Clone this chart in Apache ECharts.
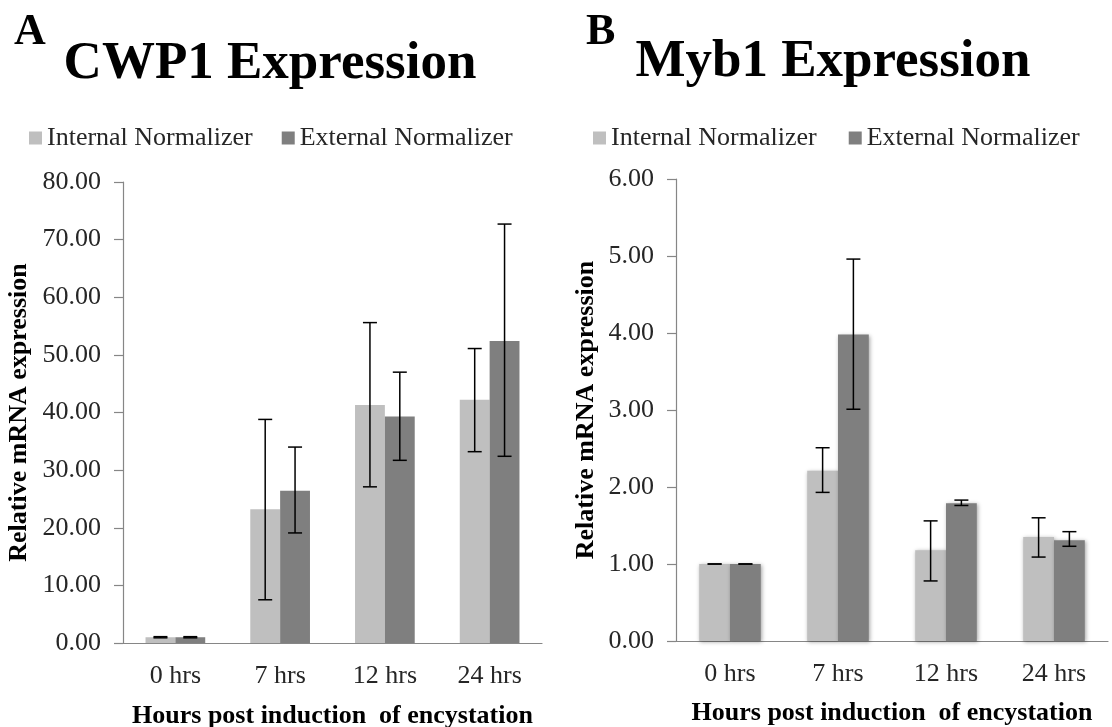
<!DOCTYPE html>
<html>
<head>
<meta charset="utf-8">
<script src="https://cdn.jsdelivr.net/npm/echarts@6/dist/echarts.min.js"></script>
<style>html,body{margin:0;padding:0;background:#fff}#c{width:1112px;height:727px}</style>
</head>
<body>
<div id="c"></div>
<script>
const categories = ['0 hrs', '7 hrs', '12 hrs', '24 hrs'];
const seriesNames = ['Internal Normalizer', 'External Normalizer'];

// CWP1 (panel A)
const cwp1Internal = [1.0, 23.2, 41.3, 42.2];
const cwp1InternalLow = [0.9, 7.5, 27.1, 33.2];
const cwp1InternalHigh = [1.1, 38.8, 55.6, 51.1];
const cwp1External = [1.0, 26.4, 39.3, 52.4];
const cwp1ExternalLow = [0.9, 19.1, 31.7, 32.4];
const cwp1ExternalHigh = [1.1, 34.0, 47.0, 72.7];
const cwp1Ticks = { min: 0, max: 80, interval: 10 };

// Myb1 (panel B)
const mybInternal = [1.0, 2.21, 1.18, 1.35];
const mybInternalLow = [1.0, 1.93, 0.78, 1.09];
const mybInternalHigh = [1.0, 2.51, 1.56, 1.60];
const mybExternal = [1.0, 3.98, 1.79, 1.31];
const mybExternalLow = [1.0, 3.01, 1.76, 1.23];
const mybExternalHigh = [1.0, 4.96, 1.83, 1.42];
const mybTicks = { min: 0, max: 6, interval: 1 };

const FONT = '"Liberation Serif", "Times New Roman", serif';
const LIGHT = '#bfbfbf';
const DARK = '#7f7f7f';
const AXIS = '#868686';
const GAP = 0.43;

function errData(low, high) {
  return categories.map((c, i) => [i, low[i], high[i]]);
}
function errSeries(idx, low, high, side) {
  return {
    type: 'custom',
    xAxisIndex: idx, yAxisIndex: idx,
    z: 5,
    silent: true,
    data: errData(low, high),
    renderItem: function (params, api) {
      const band = api.size([1, 0])[0];
      const bw = band * (1 - GAP) / 2;
      const lo = api.coord([api.value(0), api.value(1)]);
      const hi = api.coord([api.value(0), api.value(2)]);
      const x = lo[0] + side * bw / 2;
      const cap = 7;
      const st = { stroke: '#000', lineWidth: 1.5 };
      return {
        type: 'group',
        children: [
          { type: 'line', shape: { x1: x, y1: lo[1], x2: x, y2: hi[1] }, style: st },
          { type: 'line', shape: { x1: x - cap, y1: hi[1], x2: x + cap, y2: hi[1] }, style: st },
          { type: 'line', shape: { x1: x - cap, y1: lo[1], x2: x + cap, y2: lo[1] }, style: st }
        ]
      };
    }
  };
}

function xAxis(idx, gap) {
  return {
    type: 'category', gridIndex: idx, data: categories,
    name: 'Hours post induction  of encystation',
    nameLocation: 'middle', nameGap: gap,
    nameTextStyle: { fontFamily: FONT, fontSize: 26, fontWeight: 'bold', color: '#000' },
    axisLine: { lineStyle: { color: AXIS, width: 1.2 } },
    axisTick: { length: 9, lineStyle: { color: AXIS, width: 1.2 } },
    axisLabel: { fontFamily: FONT, fontSize: 26, color: '#262626', margin: 20 }
  };
}
function yAxis(idx, t, gap) {
  return {
    type: 'value', gridIndex: idx, min: t.min, max: t.max, interval: t.interval,
    name: 'Relative mRNA expression', nameLocation: 'middle', nameGap: gap, nameRotate: 90,
    nameTextStyle: { fontFamily: FONT, fontSize: 26, fontWeight: 'bold', color: '#000' },
    axisLine: { show: true, lineStyle: { color: AXIS, width: 1.2 } },
    axisTick: { show: true, length: 9, lineStyle: { color: AXIS, width: 1.2 } },
    splitLine: { show: false },
    axisLabel: { fontFamily: FONT, fontSize: 26, color: '#262626', margin: 22,
      formatter: v => v.toFixed(2) }
  };
}
function barSeries(idx, name, data, color, shadow) {
  const s = {
    type: 'bar', name: name, xAxisIndex: idx, yAxisIndex: idx, data: data,
    barGap: '0%', barCategoryGap: (GAP * 100) + '%',
    itemStyle: { color: color }
  };
  if (shadow) {
    s.itemStyle.shadowBlur = 4;
    s.itemStyle.shadowColor = 'rgba(0,0,0,0.35)';
    s.itemStyle.shadowOffsetX = 1;
    s.itemStyle.shadowOffsetY = 1;
  }
  return s;
}
const legendBase = {
  data: seriesNames, icon: 'rect', itemWidth: 13, itemHeight: 13, itemGap: 29,
  textStyle: { fontFamily: FONT, fontSize: 26, color: '#262626' }, padding: 0
};

const option = {
  animation: false,
  backgroundColor: '#fff',
  title: [
    { text: 'A', left: 14, top: 11, padding: 0, textStyle: { fontFamily: FONT, fontSize: 44, fontWeight: 'bold', color: '#000' } },
    { text: 'CWP1 Expression', left: 270, top: 38, textAlign: 'center', padding: 0, textStyle: { fontFamily: FONT, fontSize: 53, fontWeight: 'bold', color: '#000' } },
    { text: 'B', left: 586, top: 11, padding: 0, textStyle: { fontFamily: FONT, fontSize: 44, fontWeight: 'bold', color: '#000' } },
    { text: 'Myb1 Expression', left: 833, top: 36, textAlign: 'center', padding: 0, textStyle: { fontFamily: FONT, fontSize: 53, fontWeight: 'bold', color: '#000' } }
  ],
  legend: [
    Object.assign({}, legendBase, { left: 29, top: 125 }),
    Object.assign({}, legendBase, { left: 593, top: 125, itemGap: 32 })
  ],
  grid: [
    { left: 123, top: 182, width: 419, height: 461, outerBoundsMode: 'none', containLabel: false },
    { left: 676, top: 179, width: 432, height: 462, outerBoundsMode: 'none', containLabel: false }
  ],
  xAxis: [xAxis(0, 60), xAxis(1, 59)],
  yAxis: [yAxis(0, cwp1Ticks, 91), yAxis(1, mybTicks, 77)],
  series: [
    barSeries(0, seriesNames[0], cwp1Internal, LIGHT, false),
    barSeries(0, seriesNames[1], cwp1External, DARK, false),
    barSeries(1, seriesNames[0], mybInternal, LIGHT, true),
    barSeries(1, seriesNames[1], mybExternal, DARK, true),
    errSeries(0, cwp1InternalLow, cwp1InternalHigh, -1),
    errSeries(0, cwp1ExternalLow, cwp1ExternalHigh, 1),
    errSeries(1, mybInternalLow, mybInternalHigh, -1),
    errSeries(1, mybExternalLow, mybExternalHigh, 1)
  ]
};
const chart = echarts.init(document.getElementById('c'), null, { renderer: 'canvas' });
chart.setOption(option);
</script>
</body>
</html>
